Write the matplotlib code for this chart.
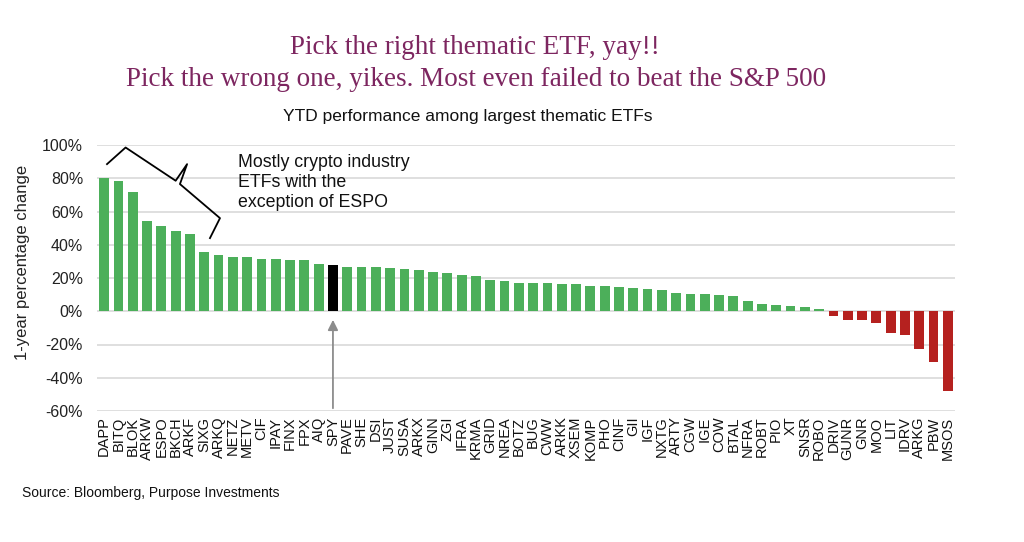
import matplotlib
matplotlib.use("Agg")
import matplotlib.pyplot as plt
import numpy as np

# ---- data ----
tickers = ["DAPP", "BITQ", "BLOK", "ARKW", "ESPO", "BKCH", "ARKF", "SIXG", "ARKQ", "NETZ",
           "METV", "CIF", "IPAY", "FINX", "FPX", "AIQ", "SPY", "PAVE", "SHE", "DSI",
           "JUST", "SUSA", "ARKX", "GINN", "ZGI", "IFRA", "KRMA", "GRID", "NREA", "BOTZ",
           "BUG", "CWW", "ARKK", "XSEM", "KOMP", "PHO", "CINF", "GII", "IGF", "NXTG",
           "ARTY", "CGW", "IGE", "COW", "BTAL", "NFRA", "ROBT", "PIO", "XT", "SNSR",
           "ROBO", "DRIV", "GUNR", "GNR", "MOO", "LIT", "IDRV", "ARKG", "PBW", "MSOS"]
returns = [80.0, 78.5, 71.5, 54.0, 51.5, 48.2, 46.2, 35.5, 33.6, 32.8,
           32.4, 31.6, 31.2, 31.0, 30.6, 28.6, 27.7, 26.6, 26.6, 26.4,
           26.2, 25.2, 25.0, 23.4, 23.0, 22.0, 21.4, 19.0, 18.4, 17.2,
           17.0, 17.0, 16.4, 16.4, 15.4, 15.2, 14.4, 13.8, 13.6, 13.0,
           10.8, 10.4, 10.2, 9.6, 9.2, 6.0, 4.2, 3.8, 3.2, 2.8,
           1.2, -3.0, -5.2, -5.2, -6.8, -13.0, -14.2, -22.8, -30.6, -48.0]
benchmark = "SPY"
yticks = [-60, -40, -20, 0, 20, 40, 60, 80, 100]

GREEN = "#4caf5a"
RED = "#b5211f"
TITLE_COL = "#7d2660"

plt.rcParams['font.family'] = ['Liberation Sans', 'DejaVu Sans']

fig = plt.figure(figsize=(10.24, 5.42), dpi=100)
ax = fig.add_axes([97 / 1024, 1 - 411 / 542, (955 - 97) / 1024, (411 - 145) / 542])

x = np.arange(len(tickers))
vals = np.array(returns)
colors = [("black" if t == benchmark else (GREEN if v >= 0 else RED))
          for t, v in zip(tickers, vals)]
ax.bar(x, vals, width=0.68, color=colors, zorder=3)

ax.set_xlim(-0.5, len(tickers) - 0.5)
ax.set_ylim(yticks[0], yticks[-1])
ax.set_yticks(yticks)
ax.set_yticklabels([f"{t}%" for t in yticks], fontsize=11.5, color="#222222")
ax.set_xticks(x)
ax.set_xticklabels(tickers, rotation=90, fontsize=10.5, color="#111111")
ax.tick_params(axis="y", length=0, pad=10)
ax.tick_params(axis="x", length=0, pad=4)
ax.grid(axis="y", color="#d9d9d9", linewidth=1.2, zorder=0)
for s in ax.spines.values():
    s.set_visible(False)
ax.set_ylabel("1-year percentage change", fontsize=12, color="#222222")
ax.yaxis.set_label_coords(-0.078, 0.56)

# bracket over the crypto names
bx = [0.2, 1.5, 5.0, 5.8, 5.3, 8.1, 7.4]
by = [88.5, 98.5, 78.5, 88.5, 76.5, 56.0, 44.0]
ax.plot(bx, by, color="black", lw=1.3, clip_on=False, zorder=4)
fig.text(238 / 1024, 1 - 154 / 542, "Mostly crypto industry\nETFs with the\nexception of ESPO",
         fontsize=12.8, va="top", ha="left", linespacing=1.25, color="#111111")

# arrow pointing at the benchmark
spy_i = tickers.index(benchmark)
ax.annotate("", xy=(spy_i, -3.5), xytext=(spy_i, -60),
            arrowprops=dict(arrowstyle="-|>,head_length=0.6,head_width=0.3",
                            color="#8c8c8c", lw=1.3), zorder=4)

fig.text(475 / 1024, 1 - 48 / 542, "Pick the right thematic ETF, yay!!",
         fontsize=19.5, family=["Liberation Serif"], color=TITLE_COL, ha="center", va="center")
fig.text(476 / 1024, 1 - 79 / 542, "Pick the wrong one, yikes. Most even failed to beat the S&P 500",
         fontsize=19.5, family=["Liberation Serif"], color=TITLE_COL, ha="center", va="center")
fig.text(468 / 1024, 1 - 117 / 542, "YTD performance among largest thematic ETFs",
         fontsize=12.5, color="#111111", ha="center", va="center")
fig.text(22 / 1024, 1 - 493 / 542, "Source: Bloomberg, Purpose Investments",
         fontsize=10, color="#111111", ha="left", va="center")

fig.savefig("out.png", dpi=100)
